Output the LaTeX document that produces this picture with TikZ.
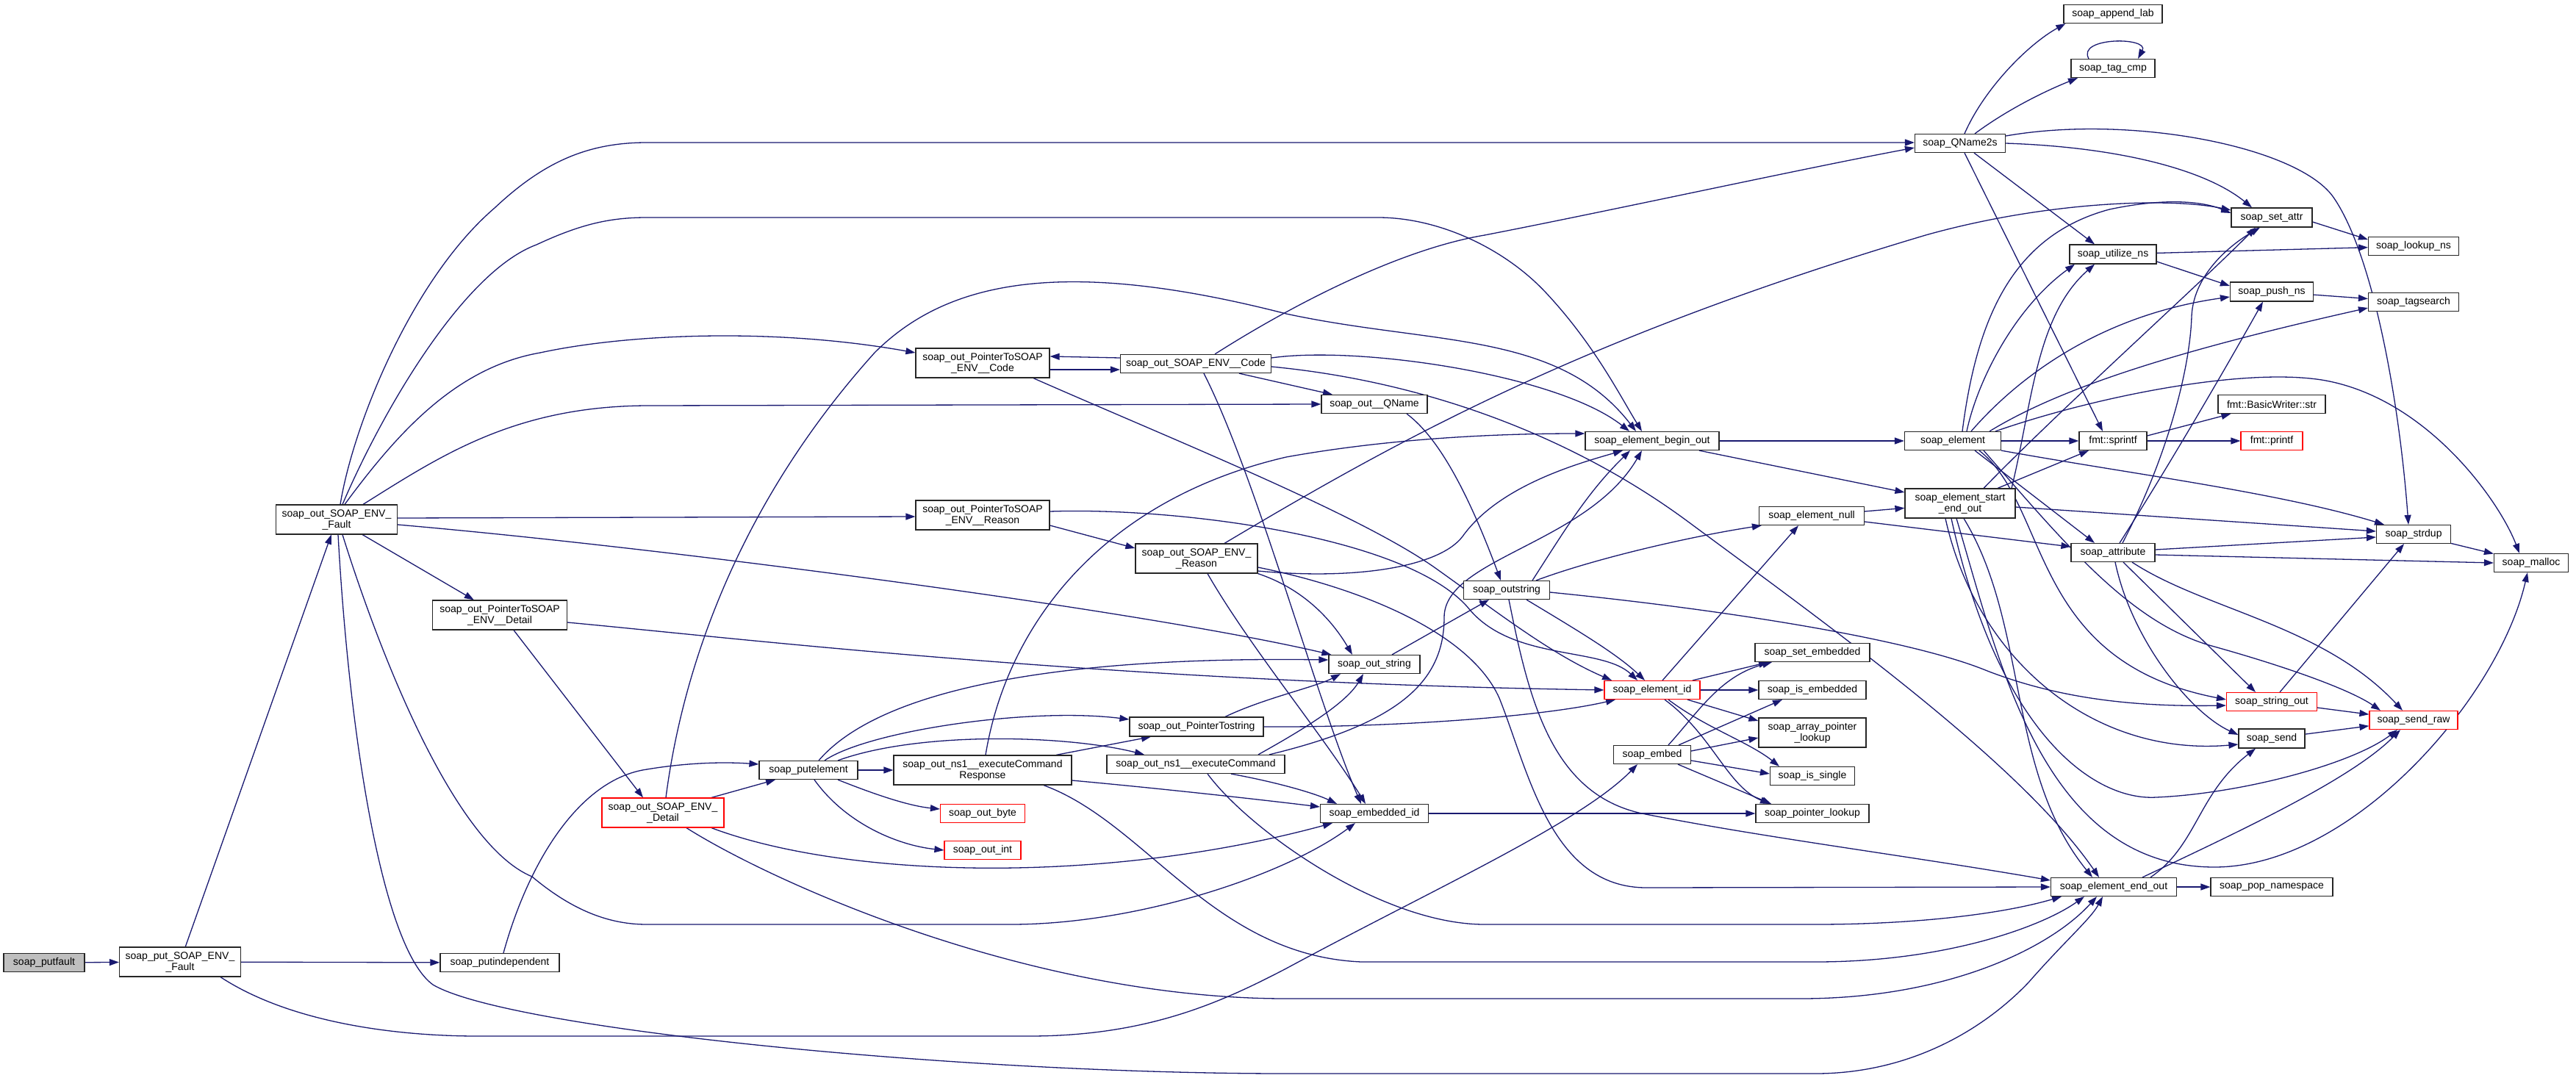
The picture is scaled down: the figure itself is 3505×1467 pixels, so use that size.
\documentclass[tikz,border=0pt]{standalone}
\usepackage{fontspec}
\setmainfont{Liberation Sans}
\usetikzlibrary{arrows.meta}
\definecolor{edgec}{HTML}{191970}
\pgfdeclarelayer{bg}
\pgfsetlayers{bg,main}
\tikzset{
  box/.style={draw=black!85, line width=1.2pt, fill=white, inner sep=0pt, align=center,
    font=\fontsize{14}{15}\selectfont},
  redbox/.style={box, draw=red},
  graybox/.style={box, fill=black!25},
  e/.style={draw=edgec, line width=1.3pt, -{Triangle[length=13pt,width=9pt]}},
}
\newcommand{\mynode}[6][box]{\node[#1,minimum width=#4pt,minimum height=#5pt] (#2) at (#3) {#6};}
\begin{document}
\begin{tikzpicture}[x=1pt,y=-1pt]
\useasboundingbox (0,0) rectangle (3505,1467);
% nodes
\mynode[graybox]{putfault}{60,1310}{110}{25}{soap\_putfault}
\mynode{putF}{245,1309}{165}{40}{soap\_put\_SOAP\_ENV\_\\\_Fault}
\mynode{putind}{680,1310}{162}{25}{soap\_putindependent}
\mynode{outF}{458,707}{165}{40}{soap\_out\_SOAP\_ENV\_\\\_Fault}
\mynode{ptrDetail}{680,837}{183}{40}{soap\_out\_PointerToSOAP\\\_ENV\_\_Detail}
\mynode[redbox]{detail}{902,1106}{166}{40}{soap\_out\_SOAP\_ENV\_\\\_Detail}
\mynode{putel}{1100,1048}{134}{25}{soap\_putelement}
\mynode{ecr}{1337,1048}{242}{40}{soap\_out\_ns1\_\_executeCommand\\Response}
\mynode[redbox]{byte}{1337,1107}{115}{25}{soap\_out\_byte}
\mynode[redbox]{int}{1337,1157}{104}{25}{soap\_out\_int}
\mynode{ptrStr}{1628,989}{182}{26}{soap\_out\_PointerTostring}
\mynode{ec}{1627,1040}{242}{25}{soap\_out\_ns1\_\_executeCommand}
\mynode{ptrCode}{1337,494}{182}{40}{soap\_out\_PointerToSOAP\\\_ENV\_\_Code}
\mynode{code}{1627,495}{205}{25}{soap\_out\_SOAP\_ENV\_\_Code}
\mynode{ptrReason}{1337,701}{182}{40}{soap\_out\_PointerToSOAP\\\_ENV\_\_Reason}
\mynode{reason}{1628,760}{166}{40}{soap\_out\_SOAP\_ENV\_\\\_Reason}
\mynode{qname}{1870,550}{144}{25}{soap\_out\_\_QName}
\mynode{outstr}{1870,904}{124}{25}{soap\_out\_string}
\mynode{embid}{1870,1107}{147}{25}{soap\_embedded\_id}
\mynode{beginout}{2248,600}{182}{25}{soap\_element\_begin\_out}
\mynode{outstring}{2050,803}{117}{25}{soap\_outstring}
\mynode[redbox]{elid}{2248,939}{130}{25}{soap\_element\_id}
\mynode{embed}{2248,1027}{105}{25}{soap\_embed}
\mynode{elnull}{2465,702}{143}{25}{soap\_element\_null}
\mynode{setemb}{2466,888}{156}{25}{soap\_set\_embedded}
\mynode{isemb}{2466,939}{146}{25}{soap\_is\_embedded}
\mynode{arrptr}{2466,997}{146}{40}{soap\_array\_pointer\\\_lookup}
\mynode{issingle}{2466,1056}{115}{25}{soap\_is\_single}
\mynode{ptrlookup}{2466,1107}{154}{25}{soap\_pointer\_lookup}
\mynode{element}{2657,600}{131}{25}{soap\_element}
\mynode{startend}{2667,685}{150}{40}{soap\_element\_start\\\_end\_out}
\mynode{endout}{2876,1207}{171}{25}{soap\_element\_end\_out}
\mynode{popns}{3091,1207}{166}{25}{soap\_pop\_namespace}
\mynode{qname2s}{2667,195}{123}{25}{soap\_QName2s}
\mynode{appendlab}{2875,19}{134}{25}{soap\_append\_lab}
\mynode{tagcmp}{2875,93}{114}{25}{soap\_tag\_cmp}
\mynode{setattr}{3091,296}{110}{26}{soap\_set\_attr}
\mynode{lookupns}{3284,335}{123}{25}{soap\_lookup\_ns}
\mynode{utilns}{2875,346}{118}{26}{soap\_utilize\_ns}
\mynode{pushns}{3091,397}{113}{26}{soap\_push\_ns}
\mynode{tagsearch}{3284,411}{123}{25}{soap\_tagsearch}
\mynode{sprintf}{2875,600}{92}{25}{fmt::sprintf}
\mynode{bwstr}{3091,550}{146}{25}{fmt::BasicWriter::str}
\mynode[redbox]{printf}{3091,600}{84}{25}{fmt::printf}
\mynode{attribute}{2875,752}{114}{25}{soap\_attribute}
\mynode{strdup}{3284,727}{101}{25}{soap\_strdup}
\mynode{malloc}{3444,766}{101}{25}{soap\_malloc}
\mynode[redbox]{stringout}{3091,955}{123}{25}{soap\_string\_out}
\mynode[redbox]{sendraw}{3284,980}{120}{25}{soap\_send\_raw}
\mynode{send}{3091,1005}{90}{26}{soap\_send}
% edges
\begin{pgfonlayer}{bg}
\draw[e] (putfault) -- (putF);
\draw[e] (putF) -- (outF);
\draw[e] (putF) -- (putind);
\draw[e] ([xshift=55pt]putF.south) .. controls (400,1395) and (550,1410) .. (650,1410) -- (1400,1410) .. controls (1560,1410) and (1660,1365) .. (1750,1318) .. controls (1950,1210) and (2150,1120) .. ([xshift=-20pt]embed.south);
\draw[e] ([xshift=5pt]outF.north) .. controls (480,580) and (560,380) .. (673,283) .. controls (740,220) and (800,194) .. (880,194) -- ([yshift=1pt]qname2s.west);
\draw[e] ([xshift=8pt]outF.north) .. controls (520,560) and (630,370) .. (730,333) .. controls (790,305) and (830,296) .. (880,296) -- (1875,296) .. controls (1960,296) and (2050,340) .. (2105,400) .. controls (2170,470) and (2205,540) .. ([xshift=-14pt]beginout.north);
\draw[e] ([xshift=11pt]outF.north) .. controls (540,590) and (620,500) .. (735,480) .. controls (850,455) and (1050,445) .. ([yshift=14pt]ptrCode.west);
\draw[e] ([xshift=36pt]outF.north) .. controls (600,620) and (700,553) .. (880,552) -- (qname.west);
\draw[e] ([yshift=2pt]outF.east) -- ([yshift=-2pt]ptrReason.west);
\draw[e] ([yshift=-7pt]outF.east) .. controls (900,745) and (1550,830) .. ([xshift=4pt]outstr.north west);
\draw[e] (outF) -- (ptrDetail);
\draw[e] ([xshift=2pt]outF.south) .. controls (475,1000) and (520,1290) .. (589,1340) .. controls (690,1400) and (1300,1461) .. (1750,1461) -- (2470,1461) .. controls (2600,1461) and (2700,1400) .. (2760,1337) .. controls (2810,1280) and (2845,1250) .. ([xshift=-15pt]endout.south);
\draw[e] ([xshift=8pt]outF.south) .. controls (520,900) and (620,1150) .. (724,1193) .. controls (780,1240) and (830,1258) .. (880,1258) -- (1375,1258) .. controls (1550,1258) and (1750,1190) .. ([xshift=-26pt]embid.south);
\draw[e] ([xshift=19pt]ptrDetail.south) -- ([xshift=-27pt]detail.north);
\draw[e] ([yshift=-10pt]ptrDetail.east) .. controls (1000,868) and (1500,928) .. (elid.west);
\draw[e] ([xshift=5pt]putind.north) .. controls (720,1170) and (790,1060) .. (880,1047) .. controls (940,1037) and (990,1037) .. ([yshift=8pt]putel.west);
\draw[e] ([xshift=66pt]detail.north) -- ([xshift=-45pt]putel.south);
\draw[e] ([xshift=4pt]detail.north) .. controls (930,900) and (1010,680) .. (1190,480) .. controls (1290,380) and (1450,350) .. (1750,427) .. controls (1950,470) and (2120,450) .. ([xshift=-22pt]beginout.north);
\draw[e] ([xshift=66pt]detail.south) .. controls (1150,1195) and (1500,1205) .. ([xshift=-57pt]embid.south);
\draw[e] ([xshift=32pt]detail.south) .. controls (1050,1200) and (1400,1359) .. (1750,1359) -- (2450,1359) .. controls (2650,1359) and (2790,1290) .. ([xshift=-23pt]endout.south);
\draw[e] (putel) -- (ecr);
\draw[e] ([xshift=40pt]putel.south) .. controls (1200,1085) and (1240,1097) .. ([yshift=6pt]byte.west);
\draw[e] ([xshift=8pt]putel.south) .. controls (1150,1120) and (1220,1150) .. (int.west);
\draw[e] ([xshift=22pt]putel.north) .. controls (1180,995) and (1400,962) .. ([yshift=10pt]ptrStr.west);
\draw[e] ([xshift=40pt]putel.north) .. controls (1250,995) and (1450,1000) .. ([xshift=-70pt]ec.north);
\draw[e] ([xshift=14pt]putel.north) .. controls (1200,935) and (1450,893) .. ([yshift=6pt]outstr.west);
\draw[e] ([xshift=100pt]ecr.north) -- ([xshift=-62pt]ptrStr.south);
\draw[e] ([xshift=4pt]ecr.north) .. controls (1370,850) and (1500,680) .. (1750,622) .. controls (1900,595) and (2050,590) .. ([yshift=10pt]beginout.west);
\draw[e] ([yshift=-14pt]ecr.east) .. controls (1600,1075) and (1730,1090) .. ([yshift=9pt]embid.west);
\draw[e] ([xshift=83pt]ecr.south) .. controls (1560,1120) and (1650,1300) .. (1852,1309) -- (2470,1309) .. controls (2650,1309) and (2780,1260) .. ([xshift=-40pt]endout.south);
\draw[e] ([xshift=16pt]ec.south) .. controls (1700,1130) and (1880,1258) .. (2020,1258) -- (2470,1258) .. controls (2600,1258) and (2720,1245) .. ([xshift=-71pt]endout.south);
\draw[e] ([xshift=48pt]ec.south) .. controls (1740,1065) and (1790,1080) .. ([xshift=-51pt]embid.north);
\draw[e] ([xshift=85pt]ec.north) .. controls (1760,1000) and (1830,960) .. ([xshift=-15pt]outstr.south);
\draw[e] ([xshift=100pt]ec.north) .. controls (1900,985) and (1965,930) .. (1965,840) .. controls (1965,760) and (2160,740) .. ([xshift=-14pt]beginout.south);
\draw[e] ([xshift=39pt]ptrStr.north) .. controls (1720,950) and (1790,935) .. ([xshift=-46pt]outstr.south);
\draw[e] (ptrStr.east) .. controls (1900,990) and (2100,975) .. ([xshift=-50pt]elid.south);
\draw[e] ([yshift=8pt]code.west) -- ([yshift=9pt]ptrCode.east);
\draw[e] ([yshift=-9pt]ptrCode.east) -- ([yshift=-8pt]code.west);
\draw[e] ([xshift=69pt]ptrCode.south) .. controls (1600,600) and (1850,700) .. (1953,773) .. controls (2040,835) and (2110,890) .. ([xshift=-55pt]elid.north);
\draw[e] ([xshift=26pt]code.north) .. controls (1750,420) and (1900,340) .. (2020,320) .. controls (2200,285) and (2450,230) .. ([yshift=-6pt]qname2s.west);
\draw[e] ([yshift=8pt]code.east) .. controls (1850,470) and (2120,510) .. ([xshift=-31pt]beginout.north);
\draw[e] ([xshift=59pt]code.south) -- ([xshift=-57pt]qname.north);
\draw[e] ([yshift=-4pt]code.east) .. controls (1950,520) and (2150,600) .. (2301,713) .. controls (2500,860) and (2750,1040) .. ([xshift=-20pt]endout.north);
\draw[e] ([xshift=11pt]code.south) .. controls (1710,650) and (1790,950) .. ([xshift=-18pt]embid.north);
\draw[e] ([yshift=-14pt]ptrReason.east) -- ([yshift=14pt]reason.west);
\draw[e] ([yshift=5pt]ptrReason.east) .. controls (1600,690) and (1920,730) .. (2000,830) .. controls (2060,900) and (2180,880) .. ([xshift=-20pt]elid.north);
\draw[e] ([xshift=38pt]reason.north) .. controls (1900,600) and (2150,460) .. (2620,320) .. controls (2780,275) and (2950,268) .. ([yshift=10pt]setattr.west);
\draw[e] ([yshift=-17pt]reason.east) .. controls (1850,790) and (1960,770) .. (1990,730) .. controls (2040,660) and (2150,630) .. ([xshift=-40pt]beginout.south);
\draw[e] ([xshift=15pt]reason.south) .. controls (1700,880) and (1800,1000) .. ([xshift=-12pt]embid.north);
\draw[e] (reason.south east) .. controls (1770,800) and (1810,840) .. ([xshift=-30pt]outstr.north);
\draw[e] ([yshift=-12pt]reason.east) .. controls (1850,800) and (2000,860) .. (2040,950) .. controls (2080,1050) and (2110,1208) .. (2240,1208) -- (endout.west);
\draw[e] ([xshift=44pt]qname.south) .. controls (1950,590) and (1990,650) .. ([xshift=-8pt]outstring.north);
\draw[e] ([xshift=24pt]outstr.north) -- ([xshift=-24pt]outstring.south);
\draw[e] ([xshift=35pt]outstring.north) .. controls (2130,720) and (2160,670) .. ([xshift=-30pt]beginout.south);
\draw[e] ([xshift=40pt]outstring.north) .. controls (2170,760) and (2300,730) .. ([xshift=4pt]elnull.south west);
\draw[e] ([xshift=27pt]outstring.south) .. controls (2150,860) and (2200,890) .. ([xshift=-10pt]elid.north);
\draw[e] ([xshift=3pt]outstring.south) .. controls (2080,950) and (2110,1080) .. (2234,1107) .. controls (2400,1140) and (2600,1165) .. ([yshift=9pt]endout.west);
\draw[e] ([yshift=-3pt]outstring.east) .. controls (2350,830) and (2600,870) .. (2704,913) .. controls (2800,950) and (2900,962) .. ([yshift=-5pt]stringout.west);
\draw[e] ([xshift=14pt]elid.north) -- ([xshift=-18pt]elnull.south);
\draw[e] ([xshift=55pt]elid.north) -- ([xshift=-60pt]setemb.south);
\draw[e] (elid) -- (isemb);
\draw[e] ([xshift=48pt]elid.south) -- ([yshift=16pt]arrptr.west);
\draw[e] ([xshift=22pt]elid.south) .. controls (2320,990) and (2380,1010) .. ([xshift=-45pt]issingle.north);
\draw[e] ([xshift=17pt]elid.south) .. controls (2330,1000) and (2350,1070) .. ([xshift=-58pt]ptrlookup.north);
\draw[e] ([xshift=22pt]embed.north) .. controls (2310,970) and (2340,920) .. ([xshift=-55pt]setemb.south);
\draw[e] ([xshift=36pt]embed.north) -- ([xshift=-41pt]isemb.south);
\draw[e] ([yshift=5pt]embed.east) -- ([yshift=-7pt]arrptr.west);
\draw[e] ([yshift=-8pt]embed.east) -- ([yshift=3pt]issingle.west);
\draw[e] ([xshift=35pt]embed.south) -- ([xshift=-56pt]ptrlookup.north);
\draw[e] (embid) -- (ptrlookup);
\draw[e] (elnull) -- (startend);
\draw[e] ([yshift=-8pt]elnull.east) -- ([yshift=8pt]attribute.west);
\draw[e] (beginout) -- (element);
\draw[e] ([xshift=64pt]beginout.south) -- ([yshift=15pt]startend.west);
\draw[e] (element) -- (sprintf);
\draw[e] (element.south east) .. controls (2900,645) and (3100,670) .. ([xshift=-40pt]strdup.north);
\draw[e] ([xshift=30pt]element.south) -- ([xshift=-25pt]attribute.north);
\draw[e] ([xshift=58pt]element.north) .. controls (2850,540) and (3050,500) .. (3159,517) .. controls (3300,540) and (3400,680) .. ([xshift=-16pt]malloc.north);
\draw[e] ([xshift=19pt]element.north) .. controls (2690,520) and (2740,420) .. ([xshift=-52pt]utilns.south);
\draw[e] ([xshift=13pt]element.north) .. controls (2690,430) and (2740,320) .. (2870,285) .. controls (2950,268) and (3000,275) .. ([yshift=6pt]setattr.west);
\draw[e] ([xshift=25pt]element.north) .. controls (2740,520) and (2850,430) .. ([yshift=-7pt]pushns.west);
\draw[e] ([xshift=50pt]element.north) .. controls (2800,530) and (2950,480) .. ([yshift=-8pt]tagsearch.west);
\draw[e] ([xshift=36pt]element.south) .. controls (2790,690) and (2760,900) .. ([yshift=3pt]stringout.west);
\draw[e] ([xshift=42pt]element.south) .. controls (2810,740) and (2900,850) .. (3013,880) .. controls (3120,910) and (3200,940) .. ([xshift=-45pt]sendraw.north);
\draw[e] ([xshift=51pt]startend.north) -- ([xshift=-33pt]sprintf.south);
\draw[e] ([xshift=70pt]startend.north) .. controls (2765,550) and (2770,430) .. ([xshift=-25pt]utilns.south);
\draw[e] ([xshift=32pt]startend.north) .. controls (2800,560) and (3000,380) .. ([xshift=-22pt]setattr.south);
\draw[e] ([yshift=-5pt]startend.east) -- ([yshift=4pt]strdup.west);
\draw[e] ([xshift=5pt]startend.south) .. controls (2760,850) and (2730,1050) .. ([xshift=-29pt]endout.north);
\draw[e] ([xshift=-5pt]startend.south) .. controls (2720,900) and (2780,1180) .. (3013,1180) .. controls (3200,1180) and (3400,950) .. ([xshift=-5pt]malloc.south);
\draw[e] ([xshift=-12pt]startend.south) .. controls (2720,1000) and (2850,1090) .. (2934,1085) .. controls (3050,1080) and (3200,1040) .. ([xshift=-22pt]sendraw.south);
\draw[e] ([xshift=-20pt]startend.south) .. controls (2690,900) and (2850,1030) .. ([yshift=-8pt]send.west);
\draw[e] ([yshift=4pt]attribute.east) -- ([yshift=-4pt]strdup.west);
\draw[e] ([yshift=-3pt]attribute.east) -- (malloc.west);
\draw[e] ([xshift=14pt]attribute.south) -- ([xshift=-22pt]stringout.north);
\draw[e] ([xshift=3pt]attribute.south) .. controls (2900,870) and (2980,970) .. ([yshift=5pt]send.west);
\draw[e] ([xshift=26pt]attribute.south) .. controls (3000,830) and (3160,850) .. ([xshift=-15pt]sendraw.north);
\draw[e] ([xshift=13pt]attribute.north) .. controls (2950,620) and (2980,500) .. (2982,430) .. controls (2985,370) and (3040,330) .. ([xshift=-16pt]setattr.south);
\draw[e] ([xshift=9pt]attribute.north) .. controls (2960,620) and (3040,480) .. ([xshift=-12pt]pushns.south);
\draw[e] ([xshift=6pt]qname2s.north) .. controls (2700,120) and (2760,60) .. ([xshift=3pt]appendlab.south west);
\draw[e] ([xshift=20pt]qname2s.north) .. controls (2730,150) and (2780,125) .. ([xshift=-48pt]tagcmp.south);
\draw[e] ([xshift=-33pt]tagcmp.north) .. controls (2825,50) and (2925,50) .. ([xshift=34pt]tagcmp.north);
\draw[e] (qname2s.east) .. controls (2880,200) and (3000,230) .. ([xshift=-27pt]setattr.north);
\draw[e] ([yshift=10pt]qname2s.east) .. controls (2900,155) and (3130,200) .. (3176,270) .. controls (3230,350) and (3265,550) .. ([xshift=-7pt]strdup.north);
\draw[e] ([xshift=19pt]qname2s.south) -- ([xshift=-25pt]utilns.north);
\draw[e] ([xshift=6pt]qname2s.south) -- ([xshift=-14pt]sprintf.north);
\draw[e] ([yshift=-6pt]setattr.east) -- ([yshift=9pt]lookupns.west);
\draw[e] (utilns) -- (lookupns);
\draw[e] ([yshift=-10pt]utilns.east) -- ([yshift=8pt]pushns.west);
\draw[e] (pushns) -- (tagsearch);
\draw[e] ([yshift=7pt]sprintf.east) -- ([xshift=18pt]bwstr.south west);
\draw[e] (sprintf) -- (printf);
\draw[e] (strdup) -- (malloc);
\draw[e] (stringout) -- (sendraw);
\draw[e] ([xshift=11pt]stringout.north) -- ([xshift=-13pt]strdup.south);
\draw[e] (send) -- (sendraw);
\draw[e] (endout) -- (popns);
\draw[e] ([xshift=50pt]endout.north) .. controls (2990,1150) and (2990,1080) .. ([xshift=-22pt]send.south);
\draw[e] ([xshift=39pt]endout.north) .. controls (3050,1130) and (3200,1060) .. ([xshift=-18pt]sendraw.south);
\end{pgfonlayer}
\end{tikzpicture}
\end{document}
